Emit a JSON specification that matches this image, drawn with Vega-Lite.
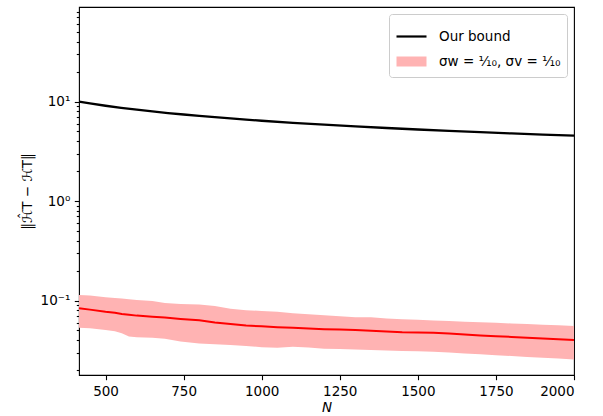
{
  "$schema": "https://vega.github.io/schema/vega-lite/v6.json",
  "autosize": {"type": "none"},
  "width": 495,
  "height": 368,
  "padding": {"left": 79, "top": 7, "right": 29, "bottom": 41},
  "background": "white",
  "config": {
    "font": "DejaVu Sans",
    "view": {"stroke": "black", "strokeWidth": 1.1},
    "axis": {
      "labelFont": "DejaVu Sans", "labelFontSize": 13.5, "labelColor": "black",
      "titleFont": "DejaVu Sans", "titleFontSize": 13.5, "titleFontWeight": "normal", "titleColor": "black",
      "tickColor": "black", "tickWidth": 1.1, "domain": false, "grid": false
    },
    "legend": {
      "labelFont": "DejaVu Sans", "labelFontSize": 13.5, "labelColor": "black"
    }
  },
  "datasets": {
    "bound": [
      {"N": 415, "v": 9.95}, {"N": 450, "v": 9.555}, {"N": 500, "v": 9.065}, {"N": 550, "v": 8.643},
      {"N": 600, "v": 8.275}, {"N": 650, "v": 7.95}, {"N": 700, "v": 7.661}, {"N": 750, "v": 7.401},
      {"N": 800, "v": 7.166}, {"N": 850, "v": 6.952}, {"N": 900, "v": 6.757}, {"N": 950, "v": 6.576},
      {"N": 1000, "v": 6.41}, {"N": 1100, "v": 6.112}, {"N": 1200, "v": 5.851}, {"N": 1300, "v": 5.622},
      {"N": 1400, "v": 5.417}, {"N": 1500, "v": 5.234}, {"N": 1600, "v": 5.068}, {"N": 1700, "v": 4.916},
      {"N": 1800, "v": 4.778}, {"N": 1900, "v": 4.65}, {"N": 2000, "v": 4.532}
    ],
    "band": [
      {"N": 415, "mid": 0.0835, "lo": 0.0533, "hi": 0.1136},
      {"N": 450, "mid": 0.081, "lo": 0.0525, "hi": 0.112},
      {"N": 500, "mid": 0.077, "lo": 0.0505, "hi": 0.108},
      {"N": 530, "mid": 0.0752, "lo": 0.0492, "hi": 0.106},
      {"N": 552, "mid": 0.0733, "lo": 0.0468, "hi": 0.1045},
      {"N": 575, "mid": 0.072, "lo": 0.0435, "hi": 0.1028},
      {"N": 600, "mid": 0.0705, "lo": 0.0428, "hi": 0.101},
      {"N": 650, "mid": 0.0688, "lo": 0.0422, "hi": 0.099},
      {"N": 690, "mid": 0.0674, "lo": 0.0412, "hi": 0.0945},
      {"N": 740, "mid": 0.0652, "lo": 0.0388, "hi": 0.0922},
      {"N": 800, "mid": 0.0632, "lo": 0.037, "hi": 0.091},
      {"N": 850, "mid": 0.06, "lo": 0.0363, "hi": 0.0882},
      {"N": 900, "mid": 0.058, "lo": 0.0358, "hi": 0.0825},
      {"N": 950, "mid": 0.0562, "lo": 0.035, "hi": 0.08},
      {"N": 1000, "mid": 0.055, "lo": 0.034, "hi": 0.0785},
      {"N": 1050, "mid": 0.054, "lo": 0.0335, "hi": 0.0772},
      {"N": 1100, "mid": 0.0532, "lo": 0.0344, "hi": 0.0745},
      {"N": 1150, "mid": 0.0524, "lo": 0.0338, "hi": 0.0728},
      {"N": 1200, "mid": 0.0515, "lo": 0.0328, "hi": 0.0712},
      {"N": 1250, "mid": 0.051, "lo": 0.0326, "hi": 0.0695},
      {"N": 1300, "mid": 0.0505, "lo": 0.0322, "hi": 0.068},
      {"N": 1350, "mid": 0.0498, "lo": 0.0318, "hi": 0.0678},
      {"N": 1400, "mid": 0.0488, "lo": 0.0315, "hi": 0.066},
      {"N": 1450, "mid": 0.0479, "lo": 0.0311, "hi": 0.0648},
      {"N": 1500, "mid": 0.0477, "lo": 0.0309, "hi": 0.064},
      {"N": 1550, "mid": 0.0474, "lo": 0.0306, "hi": 0.063},
      {"N": 1600, "mid": 0.0465, "lo": 0.03, "hi": 0.0622},
      {"N": 1650, "mid": 0.0455, "lo": 0.0294, "hi": 0.0612},
      {"N": 1700, "mid": 0.0445, "lo": 0.0289, "hi": 0.0606},
      {"N": 1750, "mid": 0.0438, "lo": 0.0282, "hi": 0.0598},
      {"N": 1800, "mid": 0.0431, "lo": 0.0277, "hi": 0.0588},
      {"N": 1850, "mid": 0.0423, "lo": 0.0271, "hi": 0.0581},
      {"N": 1900, "mid": 0.0414, "lo": 0.0266, "hi": 0.0572},
      {"N": 1950, "mid": 0.0408, "lo": 0.0261, "hi": 0.0563},
      {"N": 2000, "mid": 0.0401, "lo": 0.0256, "hi": 0.0554}
    ]
  },
  "encoding": {
    "x": {
      "field": "N", "type": "quantitative",
      "scale": {"domain": [415, 2000], "nice": false, "zero": false},
      "axis": {
        "title": "N", "titleFontStyle": "italic", "titlePadding": 3,
        "values": [500, 750, 1000, 1250, 1500, 1750, 2000],
        "tickSize": 4.7, "labelPadding": 4.5, "format": "d"
      }
    }
  },
  "layer": [
    {
      "data": {"name": "band"},
      "mark": {"type": "area", "color": "#ffb3b3", "opacity": 1},
      "encoding": {
        "y": {
          "field": "lo", "type": "quantitative",
          "scale": {"type": "log", "domain": [0.01784, 89.1], "nice": false},
          "axis": {
            "title": "‖ℋ̂T − ℋT‖", "titlePadding": 6,
            "values": [0.02, 0.03, 0.04, 0.05, 0.06, 0.07, 0.08, 0.09, 0.1, 0.2, 0.3, 0.4, 0.5, 0.6, 0.7, 0.8, 0.9, 1, 2, 3, 4, 5, 6, 7, 8, 9, 10, 20, 30, 40, 50, 60, 70, 80],
            "labelExpr": "datum.value == 10 ? '10¹' : datum.value == 1 ? '10⁰' : datum.value == 0.1 ? '10⁻¹' : ''",
            "tickSize": {"condition": {"test": "datum.value == 10 || datum.value == 1 || datum.value == 0.1", "value": 4.7}, "value": 2.7},
            "labelPadding": 4.5
          }
        },
        "y2": {"field": "hi"}
      }
    },
    {
      "data": {"name": "band"},
      "mark": {"type": "line", "color": "#ff0000", "strokeWidth": 2},
      "encoding": {"y": {"field": "mid", "type": "quantitative"}}
    },
    {
      "data": {"name": "bound"},
      "mark": {"type": "line", "color": "black", "strokeWidth": 2.3},
      "encoding": {"y": {"field": "v", "type": "quantitative"}}
    },
    {
      "data": {"values": []},
      "mark": {"type": "point", "opacity": 1, "size": 900},
      "encoding": {
        "y": {"field": "v", "type": "quantitative"},
        "fill": {
          "field": "s", "type": "nominal",
          "scale": {"domain": ["Our bound", "σw = ⅒, σv = ⅒"], "range": ["transparent", "#ffb3b3"]},
          "legend": {
            "title": null, "orient": "top-right", "offset": 7,
            "padding": 6, "strokeColor": "#cccccc", "fillColor": "white", "cornerRadius": 3,
            "symbolSize": 900, "labelOffset": 11, "rowPadding": 2,
            "symbolStrokeWidth": 2.2, "symbolOpacity": 1
          }
        },
        "stroke": {
          "field": "s", "type": "nominal",
          "scale": {"domain": ["Our bound", "σw = ⅒, σv = ⅒"], "range": ["black", "transparent"]},
          "legend": {"title": null}
        },
        "shape": {
          "field": "s", "type": "nominal",
          "scale": {"domain": ["Our bound", "σw = ⅒, σv = ⅒"], "range": ["M-1,0H1", "M-1,-0.333H1V0.333H-1Z"]},
          "legend": {"title": null}
        }
      }
    }
  ]
}
